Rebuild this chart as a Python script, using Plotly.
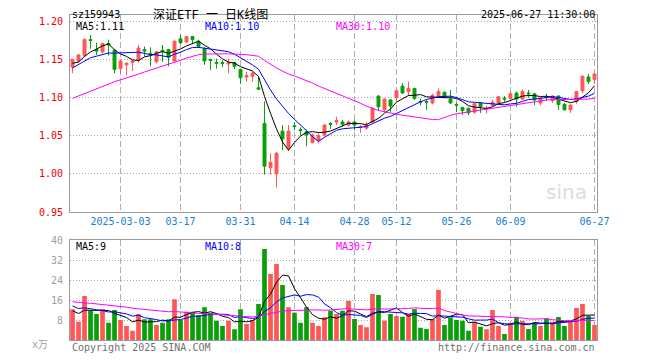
import plotly.graph_objects as go
import pandas as pd

# ---------------- data ----------------
dates = [
    "2025-02-19", "2025-02-20", "2025-02-21", "2025-02-24", "2025-02-25", "2025-02-26", "2025-02-27", "2025-02-28",
    "2025-03-03", "2025-03-04", "2025-03-05", "2025-03-06", "2025-03-07", "2025-03-10", "2025-03-11", "2025-03-12",
    "2025-03-13", "2025-03-14", "2025-03-17", "2025-03-18", "2025-03-19", "2025-03-20", "2025-03-21", "2025-03-24",
    "2025-03-25", "2025-03-26", "2025-03-27", "2025-03-28", "2025-03-31",
    "2025-04-01", "2025-04-02", "2025-04-03", "2025-04-07", "2025-04-08", "2025-04-09", "2025-04-10", "2025-04-11",
    "2025-04-14", "2025-04-15", "2025-04-16", "2025-04-17", "2025-04-18", "2025-04-21", "2025-04-22", "2025-04-23",
    "2025-04-24", "2025-04-25", "2025-04-28", "2025-04-29", "2025-04-30",
    "2025-05-06", "2025-05-07", "2025-05-08", "2025-05-09", "2025-05-12", "2025-05-13", "2025-05-14", "2025-05-15",
    "2025-05-16", "2025-05-19", "2025-05-20", "2025-05-21", "2025-05-22", "2025-05-23", "2025-05-26", "2025-05-27",
    "2025-05-28", "2025-05-29", "2025-05-30",
    "2025-06-03", "2025-06-04", "2025-06-05", "2025-06-06", "2025-06-09", "2025-06-10", "2025-06-11", "2025-06-12",
    "2025-06-13", "2025-06-16", "2025-06-17", "2025-06-18", "2025-06-19", "2025-06-20", "2025-06-23", "2025-06-24",
    "2025-06-25", "2025-06-26", "2025-06-27",
]

opens = [
    1.140, 1.148, 1.155, 1.176, 1.163, 1.160, 1.171, 1.162, 1.138, 1.143,
    1.146, 1.149, 1.163, 1.158, 1.147, 1.162, 1.163, 1.148, 1.177, 1.173,
    1.180, 1.174, 1.164, 1.150, 1.146, 1.146, 1.144, 1.146, 1.137, 1.127,
    1.128, 1.113, 1.066, 1.008, 1.000, 1.056, 1.034, 1.063, 1.058, 1.055,
    1.041, 1.044, 1.051, 1.066, 1.068, 1.068, 1.064, 1.068, 1.061, 1.060,
    1.068, 1.102, 1.084, 1.097, 1.100, 1.115, 1.108, 1.112, 1.095, 1.095,
    1.093, 1.101, 1.107, 1.098, 1.091, 1.087, 1.086, 1.081, 1.093, 1.085,
    1.090, 1.093, 1.099, 1.099, 1.106, 1.098, 1.106, 1.105, 1.093, 1.101,
    1.096, 1.102, 1.091, 1.084, 1.095, 1.109, 1.127, 1.124,
]
highs = [
    1.151, 1.157, 1.178, 1.182, 1.172, 1.172, 1.176, 1.164, 1.150, 1.146,
    1.149, 1.169, 1.167, 1.166, 1.161, 1.169, 1.164, 1.175, 1.182, 1.181,
    1.181, 1.176, 1.166, 1.151, 1.151, 1.149, 1.151, 1.147, 1.138, 1.134,
    1.134, 1.127, 1.095, 1.027, 1.029, 1.064, 1.064, 1.068, 1.061, 1.058,
    1.053, 1.053, 1.065, 1.068, 1.075, 1.071, 1.070, 1.070, 1.064, 1.068,
    1.087, 1.103, 1.099, 1.098, 1.110, 1.119, 1.121, 1.113, 1.099, 1.097,
    1.105, 1.112, 1.108, 1.110, 1.094, 1.088, 1.087, 1.093, 1.094, 1.089,
    1.097, 1.102, 1.102, 1.108, 1.108, 1.111, 1.110, 1.106, 1.101, 1.105,
    1.103, 1.103, 1.093, 1.092, 1.108, 1.129, 1.131, 1.132,
]
lows = [
    1.132, 1.146, 1.153, 1.164, 1.156, 1.158, 1.155, 1.132, 1.131, 1.129,
    1.135, 1.146, 1.154, 1.141, 1.145, 1.147, 1.141, 1.147, 1.170, 1.172,
    1.170, 1.165, 1.143, 1.136, 1.138, 1.140, 1.132, 1.137, 1.118, 1.121,
    1.121, 1.110, 0.999, 0.999, 0.982, 1.031, 1.031, 1.057, 1.050, 1.036,
    1.040, 1.040, 1.049, 1.059, 1.064, 1.062, 1.062, 1.057, 1.054, 1.058,
    1.066, 1.083, 1.081, 1.081, 1.096, 1.105, 1.102, 1.097, 1.090, 1.084,
    1.091, 1.100, 1.099, 1.092, 1.081, 1.077, 1.077, 1.079, 1.080, 1.079,
    1.088, 1.092, 1.094, 1.097, 1.088, 1.097, 1.100, 1.090, 1.090, 1.096,
    1.093, 1.084, 1.083, 1.080, 1.092, 1.106, 1.118, 1.118,
]
closes = [
    1.150, 1.156, 1.176, 1.175, 1.161, 1.171, 1.169, 1.137, 1.148, 1.145,
    1.148, 1.165, 1.161, 1.156, 1.160, 1.160, 1.153, 1.174, 1.172, 1.180,
    1.176, 1.167, 1.148, 1.149, 1.145, 1.145, 1.146, 1.141, 1.126, 1.129,
    1.132, 1.111, 1.010, 1.015, 1.027, 1.046, 1.056, 1.062, 1.057, 1.051,
    1.051, 1.050, 1.064, 1.065, 1.070, 1.065, 1.068, 1.064, 1.062, 1.064,
    1.086, 1.088, 1.098, 1.089, 1.109, 1.106, 1.112, 1.099, 1.094, 1.094,
    1.103, 1.108, 1.101, 1.093, 1.090, 1.083, 1.080, 1.092, 1.088, 1.086,
    1.094, 1.101, 1.098, 1.105, 1.098, 1.108, 1.105, 1.097, 1.099, 1.100,
    1.102, 1.091, 1.084, 1.090, 1.108, 1.128, 1.121, 1.131,
]
volumes = [
    12.3, 7.3, 17.6, 11.7, 10.4, 12.4, 6.9, 12.0, 8.0, 5.6,
    3.7, 10.4, 8.3, 8.3, 6.0, 6.9, 8.3, 16.3, 8.0, 11.3,
    11.3, 10.0, 13.1, 10.9, 7.7, 5.6, 7.7, 4.3, 12.3, 6.4,
    8.0, 14.4, 36.4, 26.4, 30.4, 22.0, 13.1, 10.9, 6.9, 13.1,
    6.9, 5.6, 9.1, 11.7, 10.4, 11.7, 15.6, 8.4, 6.0, 5.1,
    18.4, 18.0, 7.7, 10.4, 9.6, 9.3, 10.4, 12.4, 4.9, 4.4,
    8.3, 20.0, 6.0, 9.1, 8.0, 7.7, 3.7, 7.3, 5.3, 4.3,
    12.0, 5.6, 2.4, 6.9, 9.3, 7.6, 4.4, 6.9, 5.6, 8.7,
    7.3, 9.2, 5.6, 7.3, 12.8, 14.4, 9.6, 6.0,
]
# history before the visible window (estimated from where the MA lines start)
prior_closes = [
    1.062, 1.068, 1.071, 1.066, 1.074, 1.079, 1.070, 1.073, 1.076, 1.077,
    1.080, 1.078, 1.083, 1.085, 1.082, 1.088, 1.090, 1.087, 1.094, 1.097,
    1.112, 1.124, 1.138, 1.141, 1.150, 1.148, 1.139, 1.146, 1.142,
]
prior_volumes = [
    18.2, 21.5, 15.3, 17.8, 14.6, 19.9, 16.1, 17.2, 15.8, 17.2,
    16.4, 13.8, 15.7, 12.9, 14.2, 17.5, 13.1, 15.6, 14.8, 15.4,
    17.3, 14.6, 16.8, 13.5, 15.3, 12.8, 10.9, 11.6, 10.9,
]

tick_dates = ["2025-03-03", "2025-03-17", "2025-03-31", "2025-04-14", "2025-04-28",
              "2025-05-12", "2025-05-26", "2025-06-09", "2025-06-27"]
tick_labels = ["2025-03-03", "03-17", "03-31", "04-14", "04-28",
               "05-12", "05-26", "06-09", "06-27"]
price_ticks = [0.95, 1.00, 1.05, 1.10, 1.15, 1.20]
volume_ticks = [8, 16, 24, 32, 40]

price_legend = ["MA5:1.11", "MA10:1.10", "MA30:1.10"]
volume_legend = ["MA5:9", "MA10:8", "MA30:7"]

# ---------------- derived ----------------
n0 = len(prior_closes)
cs = pd.Series(prior_closes + closes)
vs = pd.Series(prior_volumes + volumes)
ma_p = {w: cs.rolling(w).mean().iloc[n0:].tolist() for w in (5, 10, 30)}
ma_v = {w: vs.rolling(w).mean().iloc[n0:].tolist() for w in (5, 10, 30)}

RED = "#ff5656"
GREEN = "#08a008"
MA_COLORS = {5: "#000000", 10: "#0000ff", 30: "#ff00ff"}
bar_colors = [RED if c >= o else GREEN for o, c in zip(opens, closes)]

fig = go.Figure()
fig.add_trace(go.Candlestick(
    x=dates, open=opens, high=highs, low=lows, close=closes,
    increasing=dict(line=dict(color=RED, width=1), fillcolor=RED),
    decreasing=dict(line=dict(color=GREEN, width=1), fillcolor=GREEN),
    whiskerwidth=0, xaxis="x", yaxis="y", hoverinfo="skip",
))
for w in (5, 10, 30):
    fig.add_trace(go.Scatter(x=dates, y=ma_p[w], mode="lines",
                             line=dict(color=MA_COLORS[w], width=1),
                             xaxis="x", yaxis="y", hoverinfo="skip"))
fig.add_trace(go.Bar(x=dates, y=volumes, marker=dict(color=bar_colors, line=dict(width=0)),
                     width=0.78, xaxis="x2", yaxis="y2", hoverinfo="skip"))
for w in (5, 10, 30):
    fig.add_trace(go.Scatter(x=dates, y=ma_v[w], mode="lines",
                             line=dict(color=MA_COLORS[w], width=1),
                             xaxis="x2", yaxis="y2", hoverinfo="skip"))

# ---------------- layout ----------------
# the page body has an 8px margin, so the figure is drawn 8px smaller and
# every reference pixel position is shifted by that offset
OFF = 8
W, H = 660 - OFF, 360 - OFF
PLOT_L, PLOT_R, PLOT_T, PLOT_B = 70, 597, 15, 340
ML, MT = PLOT_L - OFF, PLOT_T - OFF
MR, MB = W - (PLOT_R - OFF), H - (PLOT_B - OFF)
PW, PH = PLOT_R - PLOT_L, PLOT_B - PLOT_T


def px(x):
    return (x - PLOT_L) / PW


def py(y):
    return (PLOT_B - y) / PH


MONO = "DejaVu Sans Mono"
GRID_V = "#b0b0b0"
GRID_H = "#a8a8a8"
BORDER = "#9a9a9a"

xcommon = dict(type="category", range=[-0.42, len(dates) - 0.58],
               tickmode="array", tickvals=tick_dates, ticktext=tick_labels,
               showgrid=True, gridcolor=GRID_V, griddash="6px,3px", gridwidth=1,
               showline=True, mirror=True, linecolor=BORDER, linewidth=1,
               zeroline=False, ticks="", fixedrange=True, automargin=False)

fig.update_layout(
    width=W, height=H, margin=dict(l=ML, r=MR, t=MT, b=MB, autoexpand=False),
    paper_bgcolor="white", plot_bgcolor="white", showlegend=False,
    font=dict(family=MONO, size=10, color="#000"),
    xaxis=dict(**xcommon, domain=[0, 1], anchor="y",
               rangeslider=dict(visible=False),
               tickfont=dict(family=MONO, size=10, color="#1680cf")),
    xaxis2=dict(**xcommon, domain=[0, 1], anchor="y2", matches="x",
                showticklabels=False),
    yaxis=dict(domain=[py(212), 1], range=[0.95, 1.2083], tickvals=price_ticks,
               tickformat=".2f", tickfont=dict(family=MONO, size=10, color="#ee0000"),
               showgrid=True, gridcolor=GRID_H, griddash="1px,2px",
               showline=True, mirror=True, linecolor=BORDER, linewidth=1,
               zeroline=False, ticks="", ticklabelstandoff=4, fixedrange=True,
               automargin=False),
    yaxis2=dict(domain=[0, py(240)], range=[0, 40], tickvals=volume_ticks,
                tickfont=dict(family=MONO, size=10, color="#a0a0a0"),
                showgrid=True, gridcolor=GRID_H, griddash="1px,2px",
                showline=True, mirror=True, linecolor=BORDER, linewidth=1,
                zeroline=False, ticks="", ticklabelstandoff=4, fixedrange=True,
                automargin=False),
    bargap=0.2,
)


def note(text, x, y, xanchor="left", color="#000", size=10, family=MONO, **kw):
    fig.add_annotation(text=text, x=px(x), y=py(y), xref="paper", yref="paper",
                       xanchor=xanchor, yanchor="middle", showarrow=False,
                       font=dict(family=family, size=size, color=color), **kw)


note("sz159943", 70, 14)
note("深证ETF 一 日K线图", 210, 15, xanchor="center", size=12,
     family="DejaVu Sans Mono, Noto Sans CJK SC")
note("2025-06-27 11:30:00", 597, 14, xanchor="right")

legend_x = [74, 203, 334]
for i, w in enumerate((5, 10, 30)):
    note(price_legend[i], legend_x[i], 26, color=MA_COLORS[w])
    note(volume_legend[i], legend_x[i], 246, color=MA_COLORS[w])

note("sina", 566, 192, xanchor="center", size=20, color="#dcdcdc",
     family="DejaVu Sans, sans-serif")
note("Copyright 2025 SINA.COM", 70, 347, color="#707070")
note("http://finance.sina.com.cn", 597, 347, xanchor="right", color="#707070")
note("x万", 50, 344, xanchor="right", color="#a0a0a0",
     family="DejaVu Sans Mono, Noto Sans CJK SC")

fig.write_html("out.html")
